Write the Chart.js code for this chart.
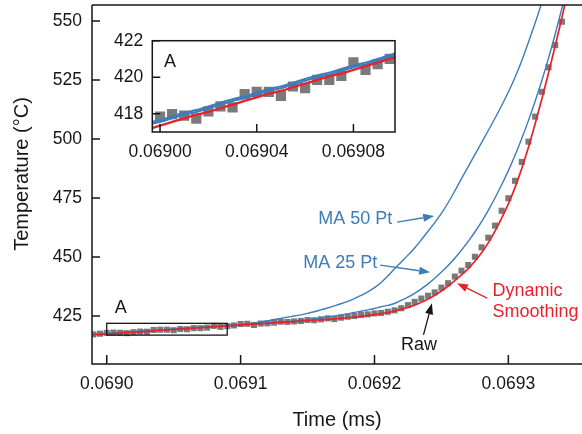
<!DOCTYPE html>
<html><head><meta charset="utf-8">
<script src="https://cdn.jsdelivr.net/npm/chart.js@4.4.0/dist/chart.umd.min.js"></script>
<style>
html,body{margin:0;padding:0;background:#fff;}
#wrap{position:relative;width:582px;height:434px;overflow:hidden;}
#main{position:absolute;left:0;top:0;}
#inset{position:absolute;left:100px;top:28px;}
</style></head><body>
<div id="wrap"><canvas id="main" width="582" height="434"></canvas><canvas id="inset" width="300" height="140"></canvas></div>
<script>
// ---- data ----
const time = [0.068990,0.068995,0.069000,0.069005,0.069010,0.069015,0.069020,0.069025,0.069030,0.069035,0.069040,0.069045,0.069050,0.069055,0.069060,0.069065,0.069070,0.069075,0.069080,0.069085,0.069090,0.069095,0.069100,0.069105,0.069110,0.069115,0.069120,0.069125,0.069130,0.069135,0.069140,0.069145,0.069150,0.069155,0.069160,0.069165,0.069170,0.069175,0.069180,0.069185,0.069190,0.069195,0.069200,0.069205,0.069210,0.069215,0.069220,0.069225,0.069230,0.069235,0.069240,0.069245,0.069250,0.069255,0.069260,0.069265,0.069270,0.069275,0.069280,0.069285,0.069290,0.069295,0.069300,0.069305,0.069310,0.069315,0.069320,0.069325,0.069330,0.069335,0.069340,0.069345];
const raw = [417.2,417.5,417.85,417.98,417.9,417.73,418.13,418.4,418.35,419.07,419.2,419.2,418.98,419.49,419.4,419.85,419.85,420.07,420.82,420.4,420.72,421.0,
 421.6,421.7,421.2,421.8,421.9,422.2,422.6,422.5,422.7,422.9,423.3,423.2,423.6,424.0,423.7,424.3,424.7,425.0,425.4,425.7,426.1,426.3,426.8,427.4,428.3,429.6,431.0,432.4,433.6,435.0,437.0,438.9,441.7,444.2,446.6,450.1,454.1,458.2,463.3,469.6,474.9,482.3,490.3,498.9,509.5,520.0,530.4,539.8,549.7,null];
const dynamicSmoothing = [417.0,417.15,417.35,417.55,417.75,417.95,418.1,418.3,418.5,418.7,418.9,419.1,419.25,419.45,419.65,419.85,420.05,420.2,420.4,420.6,420.8,421.0,
 421.2,421.4,421.55,421.75,421.9,422.1,422.3,422.45,422.6,422.8,423.0,423.2,423.4,423.6,423.8,424.0,424.25,424.55,424.9,425.25,425.6,426.0,426.5,427.1,427.8,428.6,429.6,430.8,432.2,433.8,435.6,437.7,440.0,442.4,445.1,448.2,451.8,456.0,461.0,466.5,472.5,479.5,487.5,496.5,506.5,517.0,528.0,539.5,551.5,564.0];
const ma50 = [417.3,417.5,417.65,417.85,418.05,418.2,418.4,418.6,418.8,418.95,419.15,419.35,419.5,419.7,419.9,420.1,420.25,420.45,420.65,420.8,421.0,421.2,
 421.45,421.7,422.0,422.4,422.9,423.5,424.0,424.5,425.0,425.5,426.1,426.8,427.6,428.4,429.3,430.2,431.2,432.4,433.7,435.2,437.0,439.2,442.0,445.0,447.9,450.8,453.8,457.3,460.9,464.6,468.5,473.0,478.0,483.2,488.3,493.4,498.5,503.6,508.8,514.2,519.9,526.2,533.2,541.0,549.2,557.8,null,null,null,null];
const ma25 = [417.2,417.4,417.55,417.75,417.95,418.1,418.3,418.5,418.7,418.85,419.05,419.25,419.4,419.6,419.8,420.0,420.15,420.35,420.55,420.7,420.9,421.1,
 421.3,421.5,421.7,421.9,422.1,422.3,422.5,422.6,422.8,423.1,423.4,423.8,424.2,424.6,425.0,425.4,425.9,426.5,427.0,427.6,428.2,428.9,429.5,430.3,431.6,433.0,434.6,436.5,438.6,441.0,443.6,446.4,449.5,452.9,456.6,460.6,465.0,469.8,475.0,480.6,486.6,493.1,500.2,507.8,516.0,524.8,534.3,544.5,555.5,567.0];
const xTicks = [0.0690,0.0691,0.0692,0.0693];
const yTicks = [425,450,475,500,525,550];
const insetXTicks = [0.06900,0.06904,0.06908];
const insetYTicks = [418,420,422];

// ---- styles / layout ----
const FONT = "'Liberation Sans', Arial, Helvetica, sans-serif";
const BLUE = '#3b7cbd', RED = '#e8222b', GRAY = '#7a7a7a', INK = '#161616';
const pts = arr => time.map((t,i)=>({x:t, y:arr[i]}));

function arrow(ctx, x0, y0, x1, y1, color, lw) {
  const a = Math.atan2(y1-y0, x1-x0), L = 11, W = 4;
  const bx = x1 - L*Math.cos(a), by = y1 - L*Math.sin(a);
  ctx.strokeStyle = color; ctx.fillStyle = color; ctx.lineWidth = lw;
  ctx.beginPath(); ctx.moveTo(x0,y0); ctx.lineTo(bx,by); ctx.stroke();
  ctx.beginPath(); ctx.moveTo(x1,y1);
  ctx.lineTo(bx + W*Math.sin(a), by - W*Math.cos(a));
  ctx.lineTo(bx - W*Math.sin(a), by + W*Math.cos(a));
  ctx.closePath(); ctx.fill();
}

const notes = [
  {lines:['MA 50 Pt'], x:0.0691856, y:466.3, color:BLUE, align:'center', from:[0.0692170,464.8], to:[0.0692446,467.4]},
  {lines:['MA 25 Pt'], x:0.0691744, y:447.5, color:BLUE, align:'center', from:[0.0692043,446.6], to:[0.0692416,443.5]},
  {lines:['Dynamic','Smoothing'], x:0.0692882, y:435.6, lineStep:-8.9, color:RED, align:'left', from:[0.0692842,432.6], to:[0.0692616,438.9]},
  {lines:['Raw'], x:0.0692332, y:412.5, color:INK, align:'center', from:[0.0692366,417.0], to:[0.0692429,430.4]}
];

const mainDecor = {
  id:'mainDecor',
  afterDraw(chart) {
    const ctx = chart.ctx, {left,right,top,bottom} = chart.chartArea;
    const xs = chart.scales.x, ys = chart.scales.y;
    ctx.save();
    ctx.strokeStyle = INK; ctx.lineWidth = 1.5;
    ctx.beginPath();
    ctx.moveTo(left, top); ctx.lineTo(left, bottom); ctx.lineTo(right, bottom);
    ctx.moveTo(left, top); ctx.lineTo(right, top);
    xTicks.forEach(v => { const p = xs.getPixelForValue(v); ctx.moveTo(p, bottom); ctx.lineTo(p, bottom-9); });
    yTicks.forEach(v => { const p = ys.getPixelForValue(v); ctx.moveTo(left, p); ctx.lineTo(left+8, p); });
    ctx.stroke();
    // zoom box A
    const bx0 = xs.getPixelForValue(0.0690), bx1 = xs.getPixelForValue(0.06909);
    const by0 = ys.getPixelForValue(421.9), by1 = ys.getPixelForValue(416.9);
    ctx.lineWidth = 1.3; ctx.strokeStyle = INK;
    ctx.strokeRect(bx0, by0, bx1-bx0, by1-by0);
    ctx.fillStyle = INK; ctx.font = '18px ' + FONT; ctx.textAlign='center'; ctx.textBaseline='middle';
    ctx.fillText('A', xs.getPixelForValue(0.06901046), ys.getPixelForValue(428.3));
    // annotations
    notes.forEach(n => {
      ctx.font = '18px ' + FONT; ctx.fillStyle = n.color; ctx.textAlign = n.align; ctx.textBaseline='middle';
      n.lines.forEach((s,i) => ctx.fillText(s, xs.getPixelForValue(n.x), ys.getPixelForValue(n.y + i*(n.lineStep||0))));
      arrow(ctx, xs.getPixelForValue(n.from[0]), ys.getPixelForValue(n.from[1]),
                 xs.getPixelForValue(n.to[0]), ys.getPixelForValue(n.to[1]), n.color, 1.3);
    });
    // y title
    ctx.fillStyle = INK; ctx.font = '20px ' + FONT; ctx.textAlign='center'; ctx.textBaseline='middle';
    ctx.translate(22, (top+bottom)/2 - 10.5); ctx.rotate(-Math.PI/2);
    ctx.fillText('Temperature (°C)', 0, 0);
    ctx.restore();
  }
};

const insetDecor = {
  id:'insetDecor',
  afterDraw(chart) {
    const ctx = chart.ctx, {left,right,top,bottom} = chart.chartArea;
    const xs = chart.scales.x, ys = chart.scales.y;
    ctx.save();
    ctx.strokeStyle = INK; ctx.lineWidth = 1.5;
    ctx.strokeRect(left, top, right-left, bottom-top);
    ctx.beginPath();
    insetXTicks.forEach(v => { const p = xs.getPixelForValue(v); ctx.moveTo(p, bottom); ctx.lineTo(p, bottom-8); });
    insetYTicks.forEach(v => { const p = ys.getPixelForValue(v); ctx.moveTo(left, p); ctx.lineTo(left+8, p); });
    ctx.stroke();
    ctx.fillStyle = INK; ctx.font = '18px ' + FONT; ctx.textAlign='center'; ctx.textBaseline='middle';
    ctx.fillText('A', xs.getPixelForValue(0.0690041), ys.getPixelForValue(420.83));
    ctx.restore();
  }
};

function datasets(lw, pr) {
  return [
    {label:'Dynamic Smoothing', data:pts(dynamicSmoothing), showLine:true, borderColor:RED, borderWidth:lw+0.3, pointRadius:0, clip:0, cubicInterpolationMode:'monotone'},
    {label:'MA 25 Pt', data:pts(ma25), showLine:true, borderColor:BLUE, borderWidth:lw, pointRadius:0, clip:0, cubicInterpolationMode:'monotone'},
    {label:'MA 50 Pt', data:pts(ma50), showLine:true, borderColor:BLUE, borderWidth:lw, pointRadius:0, clip:0, cubicInterpolationMode:'monotone'},
    {label:'Raw', data:pts(raw), showLine:false, pointStyle:'rect', pointRadius:pr, pointBorderWidth:0, pointBackgroundColor:GRAY, pointBorderColor:GRAY, clip:0}
  ];
}

const tickFont = {family:FONT, size:17.5};
const noPad = s => { s.paddingTop = 0; s.paddingBottom = 0; s.paddingLeft = 0; s.paddingRight = 0; };

new Chart(document.getElementById('main'), {
  type:'scatter',
  data:{datasets:datasets(1.4, 4.3)},
  options:{
    responsive:false, animation:false, devicePixelRatio:1,
    layout:{autoPadding:false, padding:{top:5,right:0,left:0,bottom:0}},
    plugins:{legend:{display:false}, tooltip:{enabled:false}},
    scales:{
      x:{type:'linear', min:0.068989, max:0.069355,
         grid:{display:false, drawTicks:false}, border:{display:false},
         afterBuildTicks:s => { s.ticks = xTicks.map(v=>({value:v})); },
         afterFit:s => { s.height = 70; noPad(s); },
         ticks:{font:tickFont, color:INK, padding:10, maxRotation:0, callback:v=>Number(v).toFixed(4)},
         title:{display:true, text:'Time (ms)', font:{family:FONT,size:20}, color:INK, padding:{top:0,bottom:2}}},
      y:{type:'linear', min:404.66, max:556.8,
         grid:{display:false, drawTicks:false}, border:{display:false},
         afterBuildTicks:s => { s.ticks = yTicks.map(v=>({value:v})); },
         afterFit:s => { s.width = 92; noPad(s); },
         ticks:{font:tickFont, color:INK, padding:10, callback:v=>String(v)}}
    }
  },
  plugins:[mainDecor]
});

new Chart(document.getElementById('inset'), {
  type:'scatter',
  data:{datasets:datasets(2.0, 7.2)},
  options:{
    responsive:false, animation:false, devicePixelRatio:1,
    layout:{autoPadding:false, padding:{top:12.7,right:5,left:0,bottom:0}},
    plugins:{legend:{display:false}, tooltip:{enabled:false}},
    scales:{
      x:{type:'linear', min:0.0689968, max:0.0690972,
         grid:{display:false, drawTicks:false}, border:{display:false},
         afterBuildTicks:s => { s.ticks = insetXTicks.map(v=>({value:v})); },
         afterFit:s => { s.height = 36; noPad(s); },
         ticks:{font:tickFont, color:INK, padding:10, maxRotation:0, callback:v=>Number(v).toFixed(5)}},
      y:{type:'linear', min:417.0, max:422.0,
         grid:{display:false, drawTicks:false}, border:{display:false},
         afterBuildTicks:s => { s.ticks = insetYTicks.map(v=>({value:v})); },
         afterFit:s => { s.width = 52.3; noPad(s); },
         ticks:{font:tickFont, color:INK, padding:9, callback:v=>String(v)}}
    }
  },
  plugins:[insetDecor]
});
</script>
</body></html>
